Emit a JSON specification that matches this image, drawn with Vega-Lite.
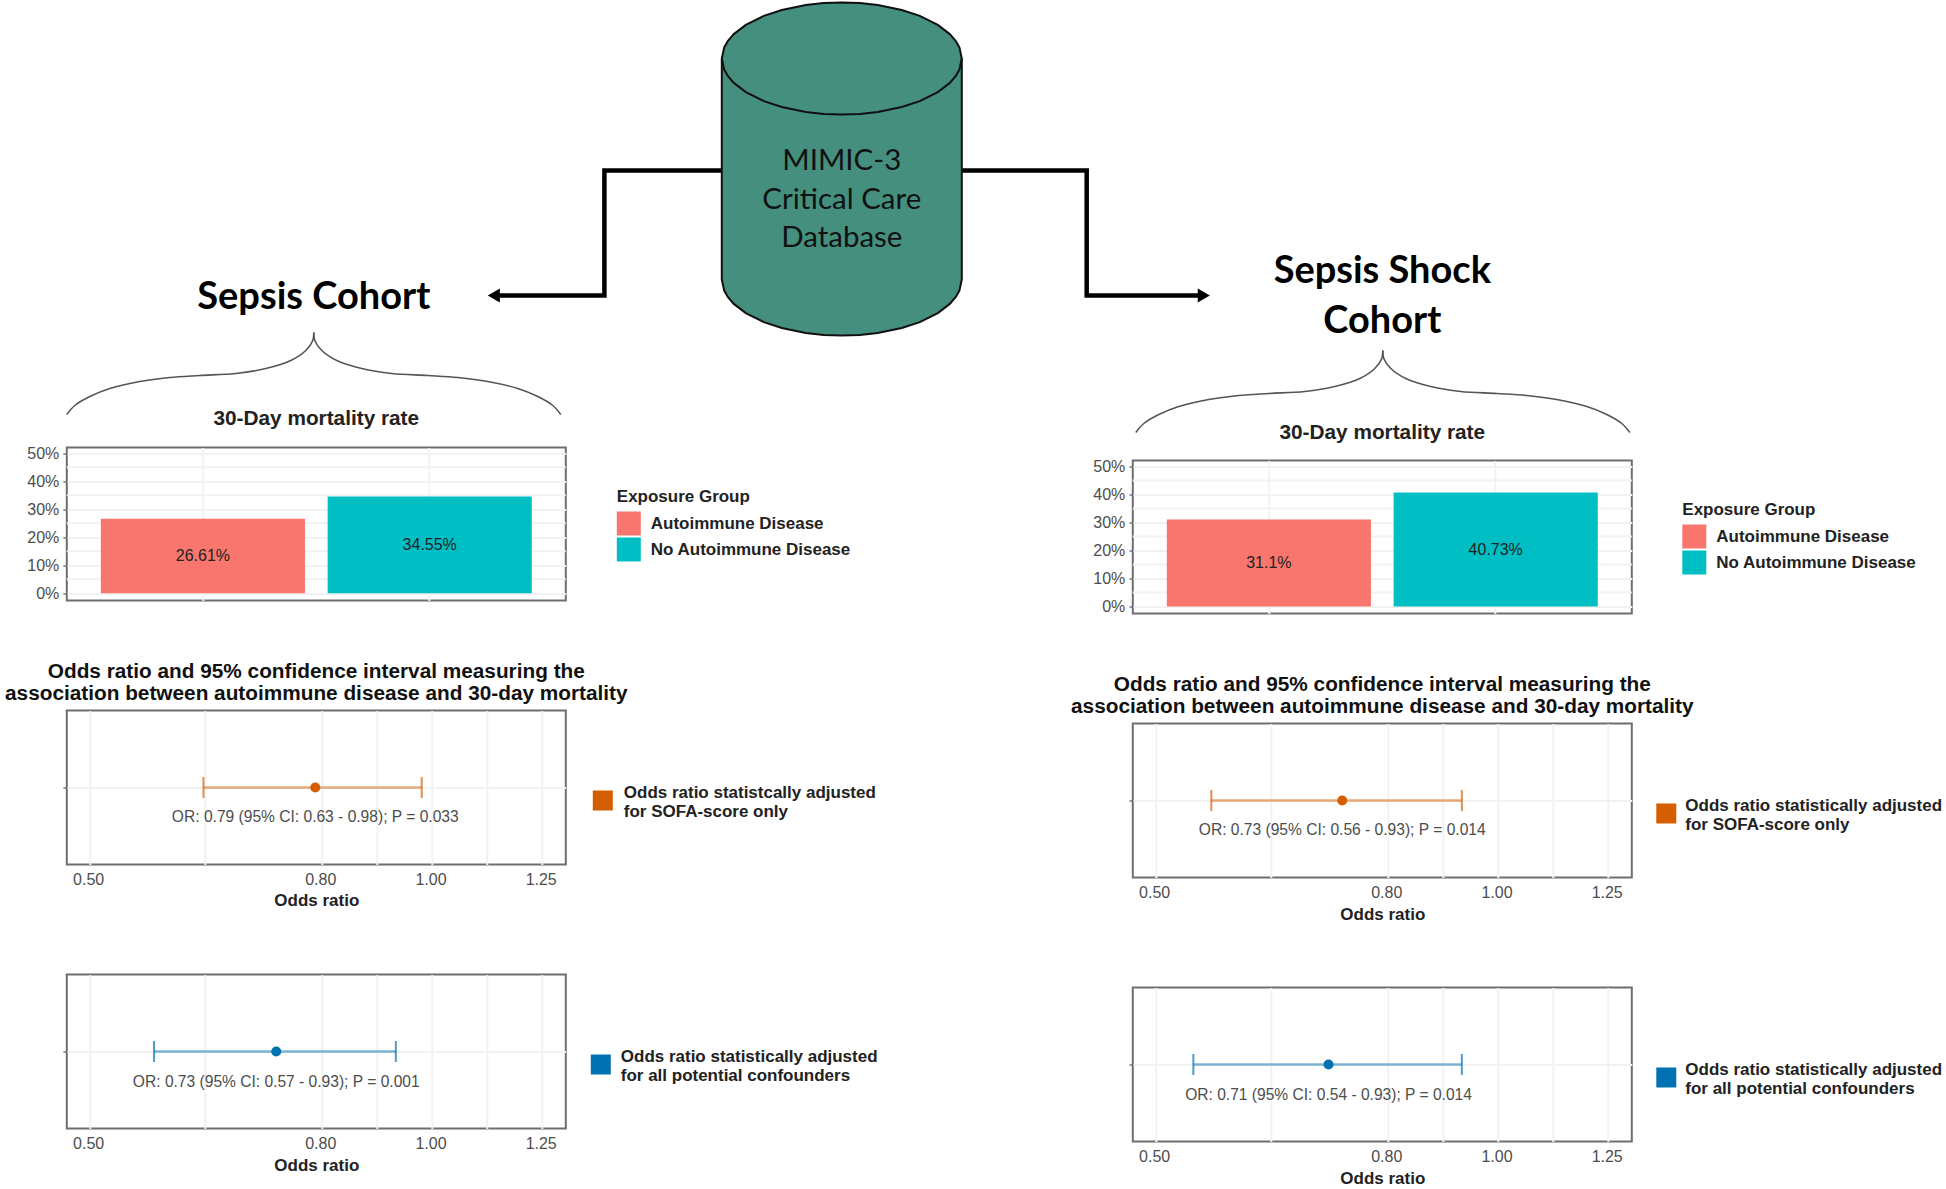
{"$schema":"https://vega.github.io/schema/vega-lite/v6.json","padding":{"left":3.8,"top":-1.5,"right":0,"bottom":0},"background":"white","spacing":-13,"resolve":{"scale":{"color":"independent"},"legend":{"color":"independent"}},"config":{"font":"Liberation Sans","view":{"stroke":"#6e6e6e","strokeWidth":2},"axis":{"labelColor":"#4d4d4d","labelFontSize":16,"titleColor":"#222222","titleFontSize":17,"titleFontWeight":"bold","gridColor":"#f2f2f2","gridWidth":2,"tickColor":"#444444"},"legend":{"titleColor":"#222222","labelColor":"#222222","titleFontSize":17,"labelFontSize":17,"labelFontWeight":"bold","titleFontWeight":"bold","padding":0}},"datasets":{"grid5":[{"minor":5},{"minor":15},{"minor":25},{"minor":35},{"minor":45}],"ratesL":[{"group":"Autoimmune Disease","rate":26.61,"label":"26.61%"},{"group":"No Autoimmune Disease","rate":34.55,"label":"34.55%"}],"ratesR":[{"group":"Autoimmune Disease","rate":31.1,"label":"31.1%"},{"group":"No Autoimmune Disease","rate":40.73,"label":"40.73%"}],"cylBody":[{"x":722,"y":58,"y2":279},{"x":724.4,"y":46.9,"y2":290.1},{"x":728,"y":40.5,"y2":296.5},{"x":734,"y":33.6,"y2":303.4},{"x":746,"y":24.4,"y2":312.6},{"x":764,"y":15.4,"y2":321.6},{"x":782,"y":9.5,"y2":327.5},{"x":806,"y":4.6,"y2":332.4},{"x":824,"y":2.6,"y2":334.4},{"x":842,"y":2,"y2":335},{"x":860,"y":2.6,"y2":334.4},{"x":878,"y":4.6,"y2":332.4},{"x":902,"y":9.5,"y2":327.5},{"x":920,"y":15.4,"y2":321.6},{"x":938,"y":24.4,"y2":312.6},{"x":950,"y":33.6,"y2":303.4},{"x":956,"y":40.5,"y2":296.5},{"x":959.6,"y":46.9,"y2":290.1},{"x":962,"y":58,"y2":279}],"cylLines":[{"p":"lid","i":1,"x":722,"y":58},{"p":"lid","i":2,"x":724.4,"y":69.1},{"p":"lid","i":3,"x":728,"y":75.5},{"p":"lid","i":4,"x":734,"y":82.4},{"p":"lid","i":5,"x":746,"y":91.6},{"p":"lid","i":6,"x":764,"y":100.6},{"p":"lid","i":7,"x":782,"y":106.5},{"p":"lid","i":8,"x":806,"y":111.4},{"p":"lid","i":9,"x":824,"y":113.4},{"p":"lid","i":10,"x":842,"y":114},{"p":"lid","i":11,"x":860,"y":113.4},{"p":"lid","i":12,"x":878,"y":111.4},{"p":"lid","i":13,"x":902,"y":106.5},{"p":"lid","i":14,"x":920,"y":100.6},{"p":"lid","i":15,"x":938,"y":91.6},{"p":"lid","i":16,"x":950,"y":82.4},{"p":"lid","i":17,"x":956,"y":75.5},{"p":"lid","i":18,"x":959.6,"y":69.1},{"p":"lid","i":19,"x":962,"y":58},{"p":"rim","i":1,"x":722,"y":58},{"p":"rim","i":2,"x":724.4,"y":46.9},{"p":"rim","i":3,"x":728,"y":40.5},{"p":"rim","i":4,"x":734,"y":33.6},{"p":"rim","i":5,"x":746,"y":24.4},{"p":"rim","i":6,"x":764,"y":15.4},{"p":"rim","i":7,"x":782,"y":9.5},{"p":"rim","i":8,"x":806,"y":4.6},{"p":"rim","i":9,"x":824,"y":2.6},{"p":"rim","i":10,"x":842,"y":2},{"p":"rim","i":11,"x":860,"y":2.6},{"p":"rim","i":12,"x":878,"y":4.6},{"p":"rim","i":13,"x":902,"y":9.5},{"p":"rim","i":14,"x":920,"y":15.4},{"p":"rim","i":15,"x":938,"y":24.4},{"p":"rim","i":16,"x":950,"y":33.6},{"p":"rim","i":17,"x":956,"y":40.5},{"p":"rim","i":18,"x":959.6,"y":46.9},{"p":"rim","i":19,"x":962,"y":58},{"p":"rim","i":20,"x":962,"y":279},{"p":"rim","i":21,"x":959.6,"y":290.1},{"p":"rim","i":22,"x":956,"y":296.5},{"p":"rim","i":23,"x":950,"y":303.4},{"p":"rim","i":24,"x":938,"y":312.6},{"p":"rim","i":25,"x":920,"y":321.6},{"p":"rim","i":26,"x":902,"y":327.5},{"p":"rim","i":27,"x":878,"y":332.4},{"p":"rim","i":28,"x":860,"y":334.4},{"p":"rim","i":29,"x":842,"y":335},{"p":"rim","i":30,"x":824,"y":334.4},{"p":"rim","i":31,"x":806,"y":332.4},{"p":"rim","i":32,"x":782,"y":327.5},{"p":"rim","i":33,"x":764,"y":321.6},{"p":"rim","i":34,"x":746,"y":312.6},{"p":"rim","i":35,"x":734,"y":303.4},{"p":"rim","i":36,"x":728,"y":296.5},{"p":"rim","i":37,"x":724.4,"y":290.1},{"p":"rim","i":38,"x":722,"y":279},{"p":"rim","i":39,"x":722,"y":58}]},"hconcat":[{"bounds":"flush","spacing":110,"resolve":{"scale":{"color":"independent"},"legend":{"color":"independent"}},"vconcat":[{"width":895,"height":337,"view":{"stroke":null},"layer":[{"data":{"values":[{"i":1,"x":722,"y":170},{"i":2,"x":604.6,"y":170},{"i":3,"x":604.6,"y":295},{"i":4,"x":497,"y":295}]},"mark":{"type":"line","color":"#000000","strokeWidth":4.5,"strokeJoin":"miter"},"encoding":{"order":{"field":"i"},"x":{"field":"x","type":"quantitative","scale":{"domain":[67,962],"nice":false,"zero":false},"axis":null},"y":{"field":"y","type":"quantitative","scale":{"domain":[337,0],"nice":false,"zero":false},"axis":null}}},{"data":{"values":[{"x":494,"y":295}]},"mark":{"type":"point","shape":"triangle-left","filled":true,"color":"#000000","size":196,"opacity":1},"encoding":{"x":{"field":"x","type":"quantitative"},"y":{"field":"y","type":"quantitative"}}},{"data":{"name":"cylBody"},"mark":{"type":"area","color":"#458f7f","opacity":1},"encoding":{"x":{"field":"x","type":"quantitative"},"y":{"field":"y","type":"quantitative"},"y2":{"field":"y2"}}},{"data":{"name":"cylLines"},"mark":{"type":"line","color":"#101010","strokeWidth":2},"encoding":{"detail":{"field":"p"},"order":{"field":"i"},"x":{"field":"x","type":"quantitative"},"y":{"field":"y","type":"quantitative"}}},{"data":{"values":[{"x":842,"y":160,"label":"MIMIC-3"},{"x":842,"y":199,"label":"Critical Care"},{"x":842,"y":237,"label":"Database"}]},"mark":{"type":"text","font":"Lato","fontSize":29.5,"color":"#111111","align":"center","baseline":"middle"},"encoding":{"x":{"field":"x","type":"quantitative"},"y":{"field":"y","type":"quantitative"},"text":{"field":"label"}}},{"data":{"values":[{"x":314,"y":297,"label":"Sepsis Cohort"}]},"mark":{"type":"text","font":"Lato","fontSize":38,"fontWeight":"bold","color":"#000000","align":"center","baseline":"middle"},"encoding":{"x":{"field":"x","type":"quantitative"},"y":{"field":"y","type":"quantitative"},"text":{"field":"label"}}},{"data":{"values":[{"s":"a","i":1,"x":67,"y":414},{"s":"a","i":2,"x":75,"y":405},{"s":"a","i":3,"x":90,"y":396},{"s":"a","i":4,"x":110,"y":388},{"s":"a","i":5,"x":140,"y":381},{"s":"a","i":6,"x":170,"y":377},{"s":"a","i":7,"x":200,"y":375},{"s":"a","i":8,"x":236,"y":373},{"s":"a","i":9,"x":266,"y":368},{"s":"a","i":10,"x":291,"y":360},{"s":"a","i":11,"x":306,"y":350},{"s":"a","i":12,"x":313,"y":340},{"s":"a","i":13,"x":314,"y":332},{"s":"b","i":13,"x":314,"y":332},{"s":"b","i":14,"x":315,"y":340},{"s":"b","i":15,"x":322,"y":350},{"s":"b","i":16,"x":337,"y":360},{"s":"b","i":17,"x":362,"y":368},{"s":"b","i":18,"x":392,"y":373},{"s":"b","i":19,"x":428,"y":375},{"s":"b","i":20,"x":458,"y":377},{"s":"b","i":21,"x":488,"y":381},{"s":"b","i":22,"x":518,"y":388},{"s":"b","i":23,"x":538,"y":396},{"s":"b","i":24,"x":553,"y":405},{"s":"b","i":25,"x":561,"y":414}]},"mark":{"type":"line","color":"#555555","strokeWidth":1.6,"interpolate":"catmull-rom"},"encoding":{"detail":{"field":"s"},"order":{"field":"i"},"x":{"field":"x","type":"quantitative"},"y":{"field":"y","type":"quantitative"}}}]},{"width":499,"height":153,"title":{"text":"30-Day mortality rate","fontSize":20.8,"fontWeight":"bold","color":"#222222","anchor":"middle","offset":15},"layer":[{"data":{"name":"grid5"},"mark":{"type":"rule","color":"#f2f2f2","strokeWidth":2},"encoding":{"y":{"field":"minor","type":"quantitative","scale":{"domain":[-2.6,52.04],"nice":false,"zero":false},"axis":{"title":null,"values":[0,10,20,30,40,50],"tickCount":6,"labelExpr":"datum.value+'%'","labelOverlap":false,"labelBound":false,"labelFlush":false,"domain":false,"grid":true,"tickSize":4,"labelPadding":4}}}},{"data":{"name":"ratesL"},"mark":{"type":"bar"},"encoding":{"x":{"field":"group","type":"nominal","scale":{"paddingInner":0.1,"paddingOuter":0.15},"axis":{"title":null,"labels":false,"ticks":false,"domain":false,"grid":true}},"y":{"field":"rate","type":"quantitative"},"color":{"field":"group","type":"nominal","scale":{"domain":["Autoimmune Disease","No Autoimmune Disease"],"range":["#f8766d","#00bfc4"]},"legend":{"title":"Exposure Group","orient":"none","legendX":550,"legendY":41,"symbolType":"square","symbolSize":576,"symbolStrokeWidth":0,"rowPadding":2,"labelOffset":10,"titlePadding":6,"labelLimit":400}}}},{"data":{"name":"ratesL"},"transform":[{"calculate":"datum.rate/2","as":"mid"}],"mark":{"type":"text","fontSize":16,"color":"#222222"},"encoding":{"x":{"field":"group","type":"nominal"},"y":{"field":"mid","type":"quantitative"},"text":{"field":"label"}}}]},{"width":499,"height":154,"title":{"text":["Odds ratio and 95% confidence interval measuring the","association between autoimmune disease and 30-day mortality"],"fontSize":20.8,"fontWeight":"bold","color":"#111111","anchor":"middle","offset":6,"lineHeight":22},"data":{"values":[{"row":"SOFA","model":"Odds ratio statistcally adjusted for SOFA-score only","or":0.79,"lo":0.63,"hi":0.98,"label":"OR: 0.79 (95% CI: 0.63 - 0.98); P = 0.033"}]},"layer":[{"mark":{"type":"rule","color":"#d55e00","opacity":0.5,"strokeWidth":2.5},"encoding":{"x":{"field":"lo","type":"quantitative","scale":{"type":"log","domain":[0.4777,1.312],"nice":false},"axis":{"title":"Odds ratio","titlePadding":5,"values":[0.5,0.632,0.8,0.894,1,1.118,1.25],"labelExpr":"(datum.value==0.632||datum.value==0.894||datum.value==1.118)?'':format(datum.value,'.2f')","labelOverlap":false,"labelBound":false,"labelFlush":false,"labelOffset":-1.2,"ticks":false,"domain":false,"grid":true,"labelPadding":7}},"x2":{"field":"hi"},"y":{"field":"row","type":"nominal","axis":{"title":null,"labels":false,"domain":false,"grid":true,"tickSize":4,"ticks":true}}}},{"mark":{"type":"tick","orient":"vertical","color":"#d55e00","opacity":0.7,"size":21,"thickness":2},"encoding":{"x":{"field":"lo","type":"quantitative"},"y":{"field":"row","type":"nominal"}}},{"mark":{"type":"tick","orient":"vertical","color":"#d55e00","opacity":0.7,"size":21,"thickness":2},"encoding":{"x":{"field":"hi","type":"quantitative"},"y":{"field":"row","type":"nominal"}}},{"mark":{"type":"point","filled":true,"opacity":1,"size":100,"shape":"circle"},"encoding":{"x":{"field":"or","type":"quantitative"},"y":{"field":"row","type":"nominal"},"color":{"field":"model","type":"nominal","scale":{"range":["#d55e00"]},"legend":{"title":null,"orient":"none","legendX":526,"legendY":73,"symbolType":"square","symbolSize":400,"symbolStrokeWidth":0,"labelOffset":11,"labelLimit":500,"labelFontSize":17,"encoding":{"symbols":{"y":{"value":17}}},"labelExpr":"[substring(datum.label,0,indexof(datum.label,' for ')),substring(datum.label,indexof(datum.label,' for ')+1)]"}}}},{"mark":{"type":"text","fontSize":15.6,"color":"#4d4d4d","dy":29.5},"encoding":{"x":{"field":"or","type":"quantitative"},"y":{"field":"row","type":"nominal"},"text":{"field":"label"}}}]},{"width":499,"height":154,"data":{"values":[{"row":"All","model":"Odds ratio statistically adjusted for all potential confounders","or":0.73,"lo":0.57,"hi":0.93,"label":"OR: 0.73 (95% CI: 0.57 - 0.93); P = 0.001"}]},"layer":[{"mark":{"type":"rule","color":"#0072b2","opacity":0.5,"strokeWidth":2.5},"encoding":{"x":{"field":"lo","type":"quantitative","scale":{"type":"log","domain":[0.4777,1.312],"nice":false},"axis":{"title":"Odds ratio","titlePadding":6,"values":[0.5,0.632,0.8,0.894,1,1.118,1.25],"labelExpr":"(datum.value==0.632||datum.value==0.894||datum.value==1.118)?'':format(datum.value,'.2f')","labelOverlap":false,"labelBound":false,"labelFlush":false,"labelOffset":-1.2,"ticks":false,"domain":false,"grid":true,"labelPadding":7}},"x2":{"field":"hi"},"y":{"field":"row","type":"nominal","axis":{"title":null,"labels":false,"domain":false,"grid":true,"tickSize":4,"ticks":true}}}},{"mark":{"type":"tick","orient":"vertical","color":"#0072b2","opacity":0.7,"size":21,"thickness":2},"encoding":{"x":{"field":"lo","type":"quantitative"},"y":{"field":"row","type":"nominal"}}},{"mark":{"type":"tick","orient":"vertical","color":"#0072b2","opacity":0.7,"size":21,"thickness":2},"encoding":{"x":{"field":"hi","type":"quantitative"},"y":{"field":"row","type":"nominal"}}},{"mark":{"type":"point","filled":true,"opacity":1,"size":100,"shape":"circle"},"encoding":{"x":{"field":"or","type":"quantitative"},"y":{"field":"row","type":"nominal"},"color":{"field":"model","type":"nominal","scale":{"range":["#0072b2"]},"legend":{"title":null,"orient":"none","legendX":524,"legendY":73,"symbolType":"square","symbolSize":400,"symbolStrokeWidth":0,"labelOffset":10,"labelLimit":500,"labelFontSize":17,"encoding":{"symbols":{"y":{"value":17}}},"labelExpr":"[substring(datum.label,0,indexof(datum.label,' for ')),substring(datum.label,indexof(datum.label,' for ')+1)]"}}}},{"mark":{"type":"text","fontSize":15.6,"color":"#4d4d4d","dy":30.5},"encoding":{"x":{"field":"or","type":"quantitative"},"y":{"field":"row","type":"nominal"},"text":{"field":"label"}}}]}]},{"bounds":"flush","spacing":110,"resolve":{"scale":{"color":"independent"},"legend":{"color":"independent"}},"vconcat":[{"width":813.5,"height":349.5,"view":{"stroke":null},"layer":[{"data":{"values":[{"i":1,"x":962,"y":170},{"i":2,"x":1086.4,"y":170},{"i":3,"x":1086.4,"y":295},{"i":4,"x":1200,"y":295}]},"mark":{"type":"line","color":"#000000","strokeWidth":4.5,"strokeJoin":"miter"},"encoding":{"order":{"field":"i"},"x":{"field":"x","type":"quantitative","scale":{"domain":[1132.5,1946],"nice":false,"zero":false},"axis":null},"y":{"field":"y","type":"quantitative","scale":{"domain":[349.5,0],"nice":false,"zero":false},"axis":null}}},{"data":{"values":[{"x":1203.5,"y":295}]},"mark":{"type":"point","shape":"triangle-right","filled":true,"color":"#000000","size":196,"opacity":1},"encoding":{"x":{"field":"x","type":"quantitative"},"y":{"field":"y","type":"quantitative"}}},{"data":{"values":[{"x":1382,"y":271.5,"label":"Sepsis Shock"},{"x":1382,"y":321.5,"label":"Cohort"}]},"mark":{"type":"text","font":"Lato","fontSize":38,"fontWeight":"bold","color":"#000000","align":"center","baseline":"middle"},"encoding":{"x":{"field":"x","type":"quantitative"},"y":{"field":"y","type":"quantitative"},"text":{"field":"label"}}},{"data":{"values":[{"s":"a","i":1,"x":1135.5,"y":432},{"s":"a","i":2,"x":1143.5,"y":423},{"s":"a","i":3,"x":1158.5,"y":414},{"s":"a","i":4,"x":1178.5,"y":406},{"s":"a","i":5,"x":1208.5,"y":399},{"s":"a","i":6,"x":1238.5,"y":395},{"s":"a","i":7,"x":1268.5,"y":393},{"s":"a","i":8,"x":1304.5,"y":391},{"s":"a","i":9,"x":1334.5,"y":386},{"s":"a","i":10,"x":1359.5,"y":378},{"s":"a","i":11,"x":1374.5,"y":368},{"s":"a","i":12,"x":1381.5,"y":358},{"s":"a","i":13,"x":1382.5,"y":350},{"s":"b","i":13,"x":1382.5,"y":350},{"s":"b","i":14,"x":1383.5,"y":358},{"s":"b","i":15,"x":1390.5,"y":368},{"s":"b","i":16,"x":1405.5,"y":378},{"s":"b","i":17,"x":1430.5,"y":386},{"s":"b","i":18,"x":1460.5,"y":391},{"s":"b","i":19,"x":1496.5,"y":393},{"s":"b","i":20,"x":1526.5,"y":395},{"s":"b","i":21,"x":1556.5,"y":399},{"s":"b","i":22,"x":1586.5,"y":406},{"s":"b","i":23,"x":1606.5,"y":414},{"s":"b","i":24,"x":1621.5,"y":423},{"s":"b","i":25,"x":1629.5,"y":432}]},"mark":{"type":"line","color":"#555555","strokeWidth":1.6,"interpolate":"catmull-rom"},"encoding":{"detail":{"field":"s"},"order":{"field":"i"},"x":{"field":"x","type":"quantitative"},"y":{"field":"y","type":"quantitative"}}}]},{"width":499,"height":153,"title":{"text":"30-Day mortality rate","fontSize":20.8,"fontWeight":"bold","color":"#222222","anchor":"middle","offset":15},"layer":[{"data":{"name":"grid5"},"mark":{"type":"rule","color":"#f2f2f2","strokeWidth":2},"encoding":{"y":{"field":"minor","type":"quantitative","scale":{"domain":[-2.46,52.18],"nice":false,"zero":false},"axis":{"title":null,"values":[0,10,20,30,40,50],"tickCount":6,"labelExpr":"datum.value+'%'","labelOverlap":false,"labelBound":false,"labelFlush":false,"domain":false,"grid":true,"tickSize":4,"labelPadding":4}}}},{"data":{"name":"ratesR"},"mark":{"type":"bar"},"encoding":{"x":{"field":"group","type":"nominal","scale":{"paddingInner":0.1,"paddingOuter":0.15},"axis":{"title":null,"labels":false,"ticks":false,"domain":false,"grid":true}},"y":{"field":"rate","type":"quantitative"},"color":{"field":"group","type":"nominal","scale":{"domain":["Autoimmune Disease","No Autoimmune Disease"],"range":["#f8766d","#00bfc4"]},"legend":{"title":"Exposure Group","orient":"none","legendX":549.5,"legendY":41,"symbolType":"square","symbolSize":576,"symbolStrokeWidth":0,"rowPadding":2,"labelOffset":10,"titlePadding":6,"labelLimit":400}}}},{"data":{"name":"ratesR"},"transform":[{"calculate":"datum.rate/2","as":"mid"}],"mark":{"type":"text","fontSize":16,"color":"#222222"},"encoding":{"x":{"field":"group","type":"nominal"},"y":{"field":"mid","type":"quantitative"},"text":{"field":"label"}}}]},{"width":499,"height":154,"title":{"text":["Odds ratio and 95% confidence interval measuring the","association between autoimmune disease and 30-day mortality"],"fontSize":20.8,"fontWeight":"bold","color":"#111111","anchor":"middle","offset":6,"lineHeight":22},"data":{"values":[{"row":"SOFA","model":"Odds ratio statistically adjusted for SOFA-score only","or":0.73,"lo":0.56,"hi":0.93,"label":"OR: 0.73 (95% CI: 0.56 - 0.93); P = 0.014"}]},"layer":[{"mark":{"type":"rule","color":"#d55e00","opacity":0.5,"strokeWidth":2.5},"encoding":{"x":{"field":"lo","type":"quantitative","scale":{"type":"log","domain":[0.4777,1.312],"nice":false},"axis":{"title":"Odds ratio","titlePadding":6,"values":[0.5,0.632,0.8,0.894,1,1.118,1.25],"labelExpr":"(datum.value==0.632||datum.value==0.894||datum.value==1.118)?'':format(datum.value,'.2f')","labelOverlap":false,"labelBound":false,"labelFlush":false,"labelOffset":-1.2,"ticks":false,"domain":false,"grid":true,"labelPadding":7}},"x2":{"field":"hi"},"y":{"field":"row","type":"nominal","axis":{"title":null,"labels":false,"domain":false,"grid":true,"tickSize":4,"ticks":true}}}},{"mark":{"type":"tick","orient":"vertical","color":"#d55e00","opacity":0.7,"size":21,"thickness":2},"encoding":{"x":{"field":"lo","type":"quantitative"},"y":{"field":"row","type":"nominal"}}},{"mark":{"type":"tick","orient":"vertical","color":"#d55e00","opacity":0.7,"size":21,"thickness":2},"encoding":{"x":{"field":"hi","type":"quantitative"},"y":{"field":"row","type":"nominal"}}},{"mark":{"type":"point","filled":true,"opacity":1,"size":100,"shape":"circle"},"encoding":{"x":{"field":"or","type":"quantitative"},"y":{"field":"row","type":"nominal"},"color":{"field":"model","type":"nominal","scale":{"range":["#d55e00"]},"legend":{"title":null,"orient":"none","legendX":523.5,"legendY":73,"symbolType":"square","symbolSize":400,"symbolStrokeWidth":0,"labelOffset":9,"labelLimit":500,"labelFontSize":17,"encoding":{"symbols":{"y":{"value":17}}},"labelExpr":"[substring(datum.label,0,indexof(datum.label,' for ')),substring(datum.label,indexof(datum.label,' for ')+1)]"}}}},{"mark":{"type":"text","fontSize":15.6,"color":"#4d4d4d","dy":29.5},"encoding":{"x":{"field":"or","type":"quantitative"},"y":{"field":"row","type":"nominal"},"text":{"field":"label"}}}]},{"width":499,"height":154,"data":{"values":[{"row":"All","model":"Odds ratio statistically adjusted for all potential confounders","or":0.71,"lo":0.54,"hi":0.93,"label":"OR: 0.71 (95% CI: 0.54 - 0.93); P = 0.014"}]},"layer":[{"mark":{"type":"rule","color":"#0072b2","opacity":0.5,"strokeWidth":2.5},"encoding":{"x":{"field":"lo","type":"quantitative","scale":{"type":"log","domain":[0.4777,1.312],"nice":false},"axis":{"title":"Odds ratio","titlePadding":6,"values":[0.5,0.632,0.8,0.894,1,1.118,1.25],"labelExpr":"(datum.value==0.632||datum.value==0.894||datum.value==1.118)?'':format(datum.value,'.2f')","labelOverlap":false,"labelBound":false,"labelFlush":false,"labelOffset":-1.2,"ticks":false,"domain":false,"grid":true,"labelPadding":7}},"x2":{"field":"hi"},"y":{"field":"row","type":"nominal","axis":{"title":null,"labels":false,"domain":false,"grid":true,"tickSize":4,"ticks":true}}}},{"mark":{"type":"tick","orient":"vertical","color":"#0072b2","opacity":0.7,"size":21,"thickness":2},"encoding":{"x":{"field":"lo","type":"quantitative"},"y":{"field":"row","type":"nominal"}}},{"mark":{"type":"tick","orient":"vertical","color":"#0072b2","opacity":0.7,"size":21,"thickness":2},"encoding":{"x":{"field":"hi","type":"quantitative"},"y":{"field":"row","type":"nominal"}}},{"mark":{"type":"point","filled":true,"opacity":1,"size":100,"shape":"circle"},"encoding":{"x":{"field":"or","type":"quantitative"},"y":{"field":"row","type":"nominal"},"color":{"field":"model","type":"nominal","scale":{"range":["#0072b2"]},"legend":{"title":null,"orient":"none","legendX":523.5,"legendY":73,"symbolType":"square","symbolSize":400,"symbolStrokeWidth":0,"labelOffset":9,"labelLimit":500,"labelFontSize":17,"encoding":{"symbols":{"y":{"value":17}}},"labelExpr":"[substring(datum.label,0,indexof(datum.label,' for ')),substring(datum.label,indexof(datum.label,' for ')+1)]"}}}},{"mark":{"type":"text","fontSize":15.6,"color":"#4d4d4d","dy":30.5},"encoding":{"x":{"field":"or","type":"quantitative"},"y":{"field":"row","type":"nominal"},"text":{"field":"label"}}}]}]}]}
